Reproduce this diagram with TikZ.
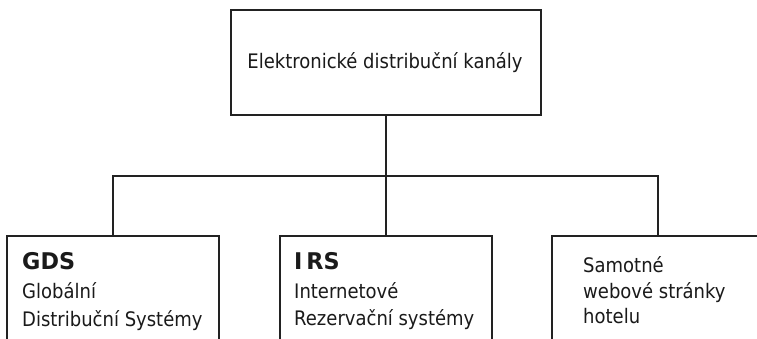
\documentclass[tikz,border=0pt]{standalone}
\usepackage{fontspec}
\setmainfont{DejaVu Sans}[FakeStretch=0.9]
\newfontfamily\headfont{DejaVu Sans}[FakeStretch=0.97]
\definecolor{linecol}{HTML}{222222}
\definecolor{textcol}{HTML}{1A1A1A}
\begin{document}
\begin{tikzpicture}[x=1pt,y=1pt,
  box/.style={draw=linecol, line width=1.5pt, rectangle, inner sep=0pt, fill=white},
  conn/.style={draw=linecol, line width=1.5pt},
  lbl/.style={anchor=base west, inner sep=0pt, text=textcol, font=\fontsize{20}{27}\selectfont},
  head/.style={anchor=base west, inner sep=0pt, text=textcol, font=\fontsize{23}{27}\selectfont\headfont\bfseries}]
\useasboundingbox (0,0) rectangle (757,-339);
\clip (0,0) rectangle (757,-339);

% root box
\node[box, minimum width=310, minimum height=105] (root) at (386,-62.5) {};
\node[anchor=base, inner sep=0pt, text=textcol, font=\fontsize{20}{27}\selectfont] (roottxt) at (385,-69) {Elektronické distribuční kanály};

% child boxes (running past the lower edge)
\node[box, minimum width=212, minimum height=140] (gds) at (113,-306) {};
\node[box, minimum width=212, minimum height=140] (irs) at (386,-306) {};
\node[box, minimum width=212, minimum height=140] (web) at (658,-306) {};

% connectors
\coordinate (bus) at (386,-176);
\draw[conn] (root.south) -- (irs.north);
\draw[conn] (gds.north) |- (bus) -| (web.north);

% texts
\node[head] (gdsh) at (22,-269) {GDS};
\node[lbl] (gds1) at (22,-298) {Globální};
\node[lbl] (gds2) at (22,-326) {Distribuční Systémy};

\node[head] (irsh) at (294,-269) {I\kern4pt RS};
\node[lbl] (irs1) at (294,-298) {Internetové};
\node[lbl] (irs2) at (294,-325) {Rezervační systémy};

\node[lbl] (web1) at (583,-272) {Samotné};
\node[lbl] (web2) at (583,-298) {webové stránky};
\node[lbl] (web3) at (583,-323) {hotelu};
\end{tikzpicture}
\end{document}
